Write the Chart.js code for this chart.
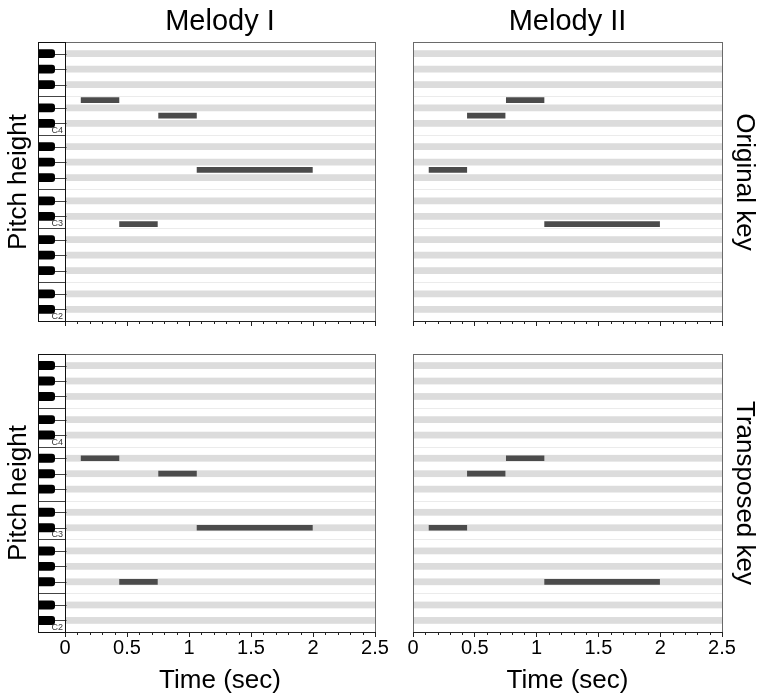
<!DOCTYPE html>
<html>
<head>
<meta charset="utf-8">
<script src="https://cdn.jsdelivr.net/npm/chart.js@4.4.1/dist/chart.umd.min.js"></script>
<style>
  html, body { margin: 0; padding: 0; background: #fff; }
  #wrap { position: relative; width: 763px; height: 698px; overflow: hidden; background: #fff; }
  #wrap canvas { position: absolute; left: 0; top: 0; }
  .lbl { position: absolute; white-space: nowrap; font-family: "Liberation Sans", Arial, Helvetica, sans-serif; color: #000; transform-origin: center center; line-height: 1; }
</style>
</head>
<body>
<div id="wrap">
  <canvas id="c1" width="763" height="698"></canvas>
  <canvas id="c2" width="763" height="698"></canvas>
  <canvas id="c3" width="763" height="698"></canvas>
  <canvas id="c4" width="763" height="698"></canvas>
</div>
<script>
// ---------------- data ----------------
const columnTitles = ['Melody I', 'Melody II'];
const rowTitles = ['Original key', 'Transposed key'];
const yAxisTitle = 'Pitch height';
const xAxisTitle = 'Time (sec)';

// note onsets / offsets (sec), same rhythm in every panel
const noteStarts = [0.13, 0.44, 0.755, 1.065];
const noteEnds   = [0.435, 0.745, 1.06, 1.995];

// MIDI pitch numbers (C4 = 60)
const melody1Original   = [64, 48, 62, 55];
const melody2Original   = [55, 62, 64, 48];
const melody1Transposed = [58, 42, 56, 49];
const melody2Transposed = [49, 56, 58, 42];

// pitch range C2 .. B4
const pitchMin = 36;
const pitchMax = 71;
const octaveLabels = { 36: 'C2', 48: 'C3', 60: 'C4' };

const timeTickLabels = ['0', '0.5', '1', '1.5', '2', '2.5'];
// --------------------------------------

const FONT = '"Liberation Sans", Arial, Helvetica, sans-serif';
const BLACK_PC = [1, 3, 6, 8, 10];

const rollPlugin = {
  id: 'roll',
  beforeDatasetsDraw(chart) {
    const ctx = chart.ctx, ys = chart.scales.y;
    const { left, right, top, bottom } = chart.chartArea;
    ctx.save();
    ctx.fillStyle = '#ffffff';
    ctx.fillRect(left, top, right - left, bottom - top);
    for (let p = pitchMin; p <= pitchMax; p++) {
      const yT = ys.getPixelForValue(p + 0.5), yB = ys.getPixelForValue(p - 0.5);
      if (BLACK_PC.includes(p % 12)) {
        ctx.fillStyle = '#dcdcdc';
        ctx.fillRect(left, yT + 0.5, right - left, yB - yT - 1);
      }
      if (p % 12 === 0 || p % 12 === 5) {
        ctx.strokeStyle = '#ebebeb';
        ctx.lineWidth = 1;
        ctx.beginPath();
        ctx.moveTo(left, Math.round(yB) + 0.5);
        ctx.lineTo(right, Math.round(yB) + 0.5);
        ctx.stroke();
      }
    }
    ctx.restore();
  },
  afterDraw(chart) {
    const ctx = chart.ctx, xs = chart.scales.x;
    const { left, right, top, bottom } = chart.chartArea;
    ctx.save();
    // minor ticks
    ctx.strokeStyle = '#222';
    ctx.lineWidth = 1;
    for (let k = 1; k < 25; k++) {
      if (k % 5 === 0) continue;
      const x = Math.round(xs.getPixelForValue(k / 10)) + 0.5;
      ctx.beginPath();
      ctx.moveTo(x, bottom);
      ctx.lineTo(x, bottom + 3);
      ctx.stroke();
    }
    // frame
    ctx.strokeStyle = '#6a6a6a';
    ctx.strokeRect(Math.round(left) + 0.5, Math.round(top) + 0.5, Math.round(right - left), Math.round(bottom - top));
    ctx.strokeStyle = '#222';
    ctx.beginPath();
    ctx.moveTo(Math.round(left), Math.round(bottom) + 0.5);
    ctx.lineTo(Math.round(right) + 1, Math.round(bottom) + 0.5);
    ctx.stroke();
    ctx.restore();
  }
};

const keyboardPlugin = {
  id: 'keyboard',
  afterDraw(chart) {
    const ctx = chart.ctx, ys = chart.scales.y;
    const { left, top, bottom } = chart.chartArea;
    const L = Math.round(left);
    const kbW = 27, kl = L - kbW;
    ctx.save();
    ctx.fillStyle = '#fff';
    ctx.fillRect(kl, top, kbW, bottom - top);
    for (let p = pitchMin; p <= pitchMax; p++) {
      const yT = ys.getPixelForValue(p + 0.5), yB = ys.getPixelForValue(p - 0.5);
      const pc = p % 12;
      if (BLACK_PC.includes(pc)) {
        const cy = Math.round((yT + yB) / 2) + 0.5;
        ctx.strokeStyle = '#444';
        ctx.lineWidth = 1;
        ctx.beginPath();
        ctx.moveTo(kl + 14, cy);
        ctx.lineTo(L + 1.5, cy);
        ctx.stroke();
        ctx.fillStyle = '#000';
        const h = yB - yT + 1.2, w = 17, r = 3;
        const x0 = kl, y0 = yT - 0.6;
        ctx.beginPath();
        ctx.moveTo(x0, y0);
        ctx.lineTo(x0 + w - r, y0);
        ctx.quadraticCurveTo(x0 + w, y0, x0 + w, y0 + r);
        ctx.lineTo(x0 + w, y0 + h - r);
        ctx.quadraticCurveTo(x0 + w, y0 + h, x0 + w - r, y0 + h);
        ctx.lineTo(x0, y0 + h);
        ctx.closePath();
        ctx.fill();
      }
      if (pc === 0 || pc === 5) {
        ctx.strokeStyle = '#444';
        ctx.lineWidth = 1;
        const yy = Math.round(yB) + 0.5;
        ctx.beginPath();
        ctx.moveTo(kl, yy);
        ctx.lineTo(L, yy);
        ctx.stroke();
      }
      if (octaveLabels[p]) {
        ctx.fillStyle = '#333';
        ctx.font = '9px ' + FONT;
        ctx.textAlign = 'right';
        ctx.textBaseline = 'alphabetic';
        ctx.fillText(octaveLabels[p], L - 2, yB - 2);
      }
    }
    ctx.strokeStyle = '#111';
    ctx.lineWidth = 1;
    ctx.strokeRect(kl + 0.5, Math.round(top) + 0.5, kbW, Math.round(bottom - top));
    ctx.restore();
  }
};

function makePanel(id, pitches, area, showLabels, withKeyboard) {
  const xH = showLabels ? 30 : 8;
  const data = pitches.map((p, i) => ({ x: [noteStarts[i], noteEnds[i]], y: p }));
  return new Chart(document.getElementById(id), {
    type: 'bar',
    data: {
      datasets: [{
        data,
        backgroundColor: '#4b4b4b',
        borderWidth: 0,
        borderSkipped: false,
        barThickness: 5
      }]
    },
    options: {
      indexAxis: 'y',
      responsive: false,
      animation: false,
      events: [],
      layout: {
        padding: {
          left: area.left,
          top: area.top,
          right: 763 - area.right,
          bottom: 698 - area.bottom - xH
        }
      },
      plugins: { legend: { display: false }, tooltip: { enabled: false }, title: { display: false } },
      scales: {
        x: {
          type: 'linear',
          min: 0,
          max: 2.5,
          offset: false,
          border: { display: false },
          grid: { drawOnChartArea: false, drawTicks: true, tickLength: 5, tickColor: '#222', tickWidth: 1, offset: false },
          ticks: {
            stepSize: 0.5,
            display: showLabels,
            autoSkip: false,
            maxRotation: 0,
            padding: 1,
            color: '#000',
            font: { family: FONT, size: 20, lineHeight: 1 },
            callback: (v, i) => timeTickLabels[i]
          },
          afterFit: s => { s.height = xH; }
        },
        y: {
          type: 'linear',
          min: pitchMin - 0.5,
          max: pitchMax + 0.5,
          offset: false,
          grid: { offset: false },
          display: false
        }
      }
    },
    plugins: withKeyboard ? [rollPlugin, keyboardPlugin] : [rollPlugin]
  });
}

const topArea = { top: 42, bottom: 321 };
const botArea = { top: 354, bottom: 632 };
const leftCol = { left: 65, right: 375 };
const rightCol = { left: 413, right: 722 };

makePanel('c1', melody1Original,   { ...leftCol,  ...topArea }, false, true);
makePanel('c2', melody2Original,   { ...rightCol, ...topArea }, false, false);
makePanel('c3', melody1Transposed, { ...leftCol,  ...botArea }, true,  true);
makePanel('c4', melody2Transposed, { ...rightCol, ...botArea }, true,  false);

// ---------- text ----------
const wrap = document.getElementById('wrap');
function addLabel(text, cx, cy, size, rot) {
  const d = document.createElement('div');
  d.className = 'lbl';
  d.textContent = text;
  d.style.fontSize = size + 'px';
  d.style.left = cx + 'px';
  d.style.top = cy + 'px';
  d.style.transform = 'translate(-50%, -50%) rotate(' + rot + 'deg)';
  wrap.appendChild(d);
}
addLabel(columnTitles[0], (leftCol.left + leftCol.right) / 2, 20, 29, 0);
addLabel(columnTitles[1], (rightCol.left + rightCol.right) / 2, 20, 29, 0);
addLabel(xAxisTitle, (leftCol.left + leftCol.right) / 2, 679, 26, 0);
addLabel(xAxisTitle, (rightCol.left + rightCol.right) / 2, 679, 26, 0);
addLabel(yAxisTitle, 17, (topArea.top + topArea.bottom) / 2, 26, -90);
addLabel(yAxisTitle, 17, (botArea.top + botArea.bottom) / 2, 26, -90);
addLabel(rowTitles[0], 746, (topArea.top + topArea.bottom) / 2, 26, 90);
addLabel(rowTitles[1], 746, (botArea.top + botArea.bottom) / 2, 26, 90);
</script>
</body>
</html>
